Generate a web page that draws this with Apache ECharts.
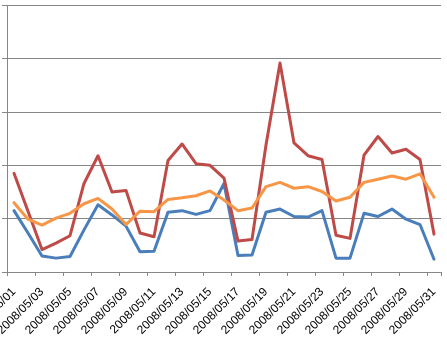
<!DOCTYPE html>
<html>
<head>
<meta charset="utf-8">
<script src="https://cdn.jsdelivr.net/npm/echarts@6/dist/echarts.min.js"></script>
<style>
  html, body { margin: 0; padding: 0; background: #ffffff; }
  #chart { width: 447px; height: 343px; }
</style>
</head>
<body>
<div id="chart"></div>
<script>
// Daily dates for May 2008
const dates = [
  '2008/05/01','2008/05/02','2008/05/03','2008/05/04','2008/05/05','2008/05/06','2008/05/07','2008/05/08',
  '2008/05/09','2008/05/10','2008/05/11','2008/05/12','2008/05/13','2008/05/14','2008/05/15','2008/05/16',
  '2008/05/17','2008/05/18','2008/05/19','2008/05/20','2008/05/21','2008/05/22','2008/05/23','2008/05/24',
  '2008/05/25','2008/05/26','2008/05/27','2008/05/28','2008/05/29','2008/05/30','2008/05/31'
];

// Three daily series
const blueValues = [115, 73, 30, 26, 29, 79, 126, 107, 86, 38, 39, 112, 115, 108, 115, 166,
  31, 32, 112, 118, 104, 103, 115, 26, 26, 110, 104, 118, 99, 89, 24];
const redValues = [185, 114, 42, 54, 68, 166, 218, 150, 153, 73, 66, 209, 240, 203, 200, 176,
  58, 61, 238, 392, 242, 218, 211, 69, 63, 219, 254, 223, 230, 211, 71];
const orangeValues = [130, 99, 88, 101, 110, 128, 138, 118, 89, 114, 113, 136, 139, 143, 152, 135,
  115, 120, 160, 168, 157, 160, 151, 133, 140, 168, 174, 180, 174, 184, 140];

const axisGray = '#868686';

const chart = echarts.init(document.getElementById('chart'), null, { renderer: 'canvas' });

function lineSeries(name, data, color) {
  return {
    name: name,
    type: 'line',
    data: data,
    symbol: 'none',
    smooth: false,
    lineStyle: { color: color, width: 3, join: 'round', cap: 'round' },
    itemStyle: { color: color }
  };
}

chart.setOption({
  animation: false,
  backgroundColor: '#ffffff',
  grid: {
    left: 7, right: 6, top: 5.3, bottom: 71,
    containLabel: false,
    outerBoundsMode: 'none'
  },
  xAxis: {
    type: 'category',
    data: dates,
    boundaryGap: true,
    axisLine: { show: true, lineStyle: { color: axisGray, width: 1 } },
    axisTick: { show: true, interval: 1, length: 4, lineStyle: { color: axisGray } },
    axisLabel: {
      interval: 1,
      rotate: 45,
      margin: 18,
      color: '#000000',
      fontFamily: 'Liberation Sans',
      fontSize: 12,
      hideOverlap: false
    },
    splitLine: { show: false }
  },
  yAxis: {
    type: 'value',
    min: 0,
    max: 500,
    interval: 100,
    axisLine: { show: true, lineStyle: { color: axisGray, width: 1 } },
    axisTick: { show: true, length: 5, lineStyle: { color: axisGray } },
    axisLabel: { show: false },
    splitLine: { show: true, lineStyle: { color: axisGray, width: 1 } }
  },
  series: [
    lineSeries('Series 1', blueValues, '#4A7EBB'),
    lineSeries('Series 2', redValues, '#BE4B48'),
    lineSeries('Series 3', orangeValues, '#F79646')
  ]
});
</script>
</body>
</html>
